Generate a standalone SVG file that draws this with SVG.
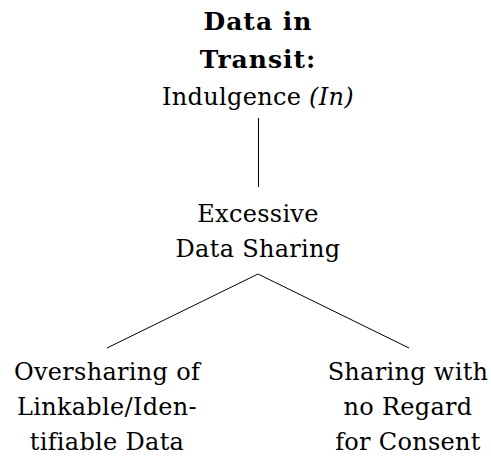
<svg xmlns="http://www.w3.org/2000/svg" width="491" height="461" viewBox="0 0 491 461">
<style>
text{font-family:"DejaVu Serif","Liberation Serif",serif;font-size:24px;letter-spacing:0.3px;fill:#000;text-anchor:middle}
.b{font-weight:bold;font-size:25px;letter-spacing:1px}
.i{font-style:italic}
.edge{stroke:#000;stroke-width:1;fill:none}
</style>
<rect width="491" height="461" fill="#fff"/>
<g id="connectors">
<line class="edge" x1="258.5" y1="118" x2="258.5" y2="187"/>
<line class="edge" x1="258" y1="274" x2="107" y2="348"/>
<line class="edge" x1="258" y1="274" x2="409" y2="348"/>
</g>
<g id="root">
<text class="b" x="258" y="30">Data in</text>
<text class="b" x="258" y="68">Transit:</text>
<text x="258" y="105">Indulgence <tspan class="i">(In)</tspan></text>
</g>
<g id="excessive">
<text x="258" y="222">Excessive</text>
<text x="258" y="257">Data Sharing</text>
</g>
<g id="oversharing">
<text x="107" y="380">Oversharing of</text>
<text x="107" y="415">Linkable/Iden-</text>
<text x="107" y="450">tifiable Data</text>
</g>
<g id="consent">
<text x="408" y="380">Sharing with</text>
<text x="408" y="415">no Regard</text>
<text x="408" y="450">for Consent</text>
</g>
</svg>
